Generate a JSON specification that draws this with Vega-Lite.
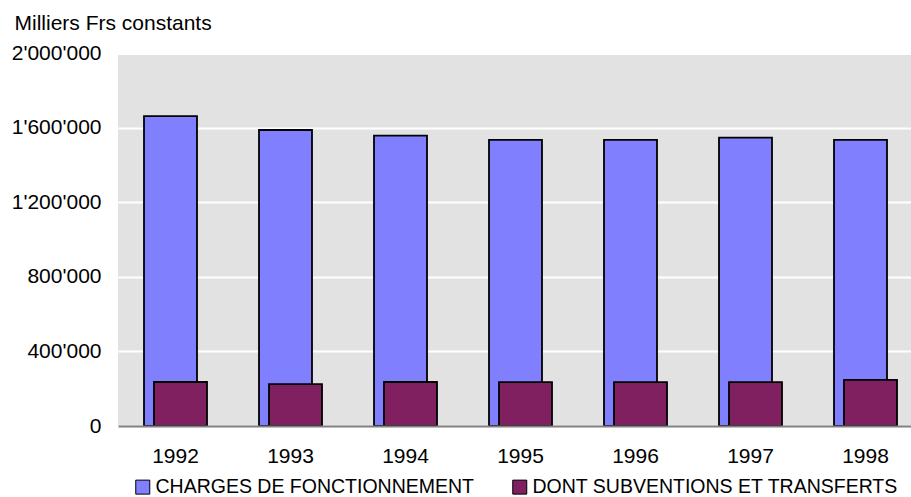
{
  "$schema": "https://vega.github.io/schema/vega-lite/v6.json",
  "width": 793,
  "height": 371,
  "autosize": "none",
  "padding": {"left": 118, "top": 55, "right": 0, "bottom": 71},
  "background": "white",
  "config": {
    "font": "Liberation Sans",
    "view": {"fill": "#E2E2E2", "stroke": null}
  },
  "data": {
    "values": [
      {"annee": "1992", "serie": "CHARGES DE FONCTIONNEMENT", "montant": 1662000},
      {"annee": "1993", "serie": "CHARGES DE FONCTIONNEMENT", "montant": 1587000},
      {"annee": "1994", "serie": "CHARGES DE FONCTIONNEMENT", "montant": 1557000},
      {"annee": "1995", "serie": "CHARGES DE FONCTIONNEMENT", "montant": 1534000},
      {"annee": "1996", "serie": "CHARGES DE FONCTIONNEMENT", "montant": 1534000},
      {"annee": "1997", "serie": "CHARGES DE FONCTIONNEMENT", "montant": 1546000},
      {"annee": "1998", "serie": "CHARGES DE FONCTIONNEMENT", "montant": 1534000},
      {"annee": "1992", "serie": "DONT SUBVENTIONS ET TRANSFERTS", "montant": 236000},
      {"annee": "1993", "serie": "DONT SUBVENTIONS ET TRANSFERTS", "montant": 225000},
      {"annee": "1994", "serie": "DONT SUBVENTIONS ET TRANSFERTS", "montant": 236000},
      {"annee": "1995", "serie": "DONT SUBVENTIONS ET TRANSFERTS", "montant": 235000},
      {"annee": "1996", "serie": "DONT SUBVENTIONS ET TRANSFERTS", "montant": 235000},
      {"annee": "1997", "serie": "DONT SUBVENTIONS ET TRANSFERTS", "montant": 235000},
      {"annee": "1998", "serie": "DONT SUBVENTIONS ET TRANSFERTS", "montant": 247000}
    ]
  },
  "encoding": {
    "x": {
      "field": "annee",
      "type": "ordinal",
      "scale": {"range": [0, 805], "paddingInner": 0, "paddingOuter": 0},
      "axis": {
        "title": null,
        "labelAngle": 0,
        "labelFontSize": 21,
        "labelColor": "black",
        "labelPadding": 19,
        "ticks": false,
        "tickSize": 0,
        "domainColor": "#808080",
        "domainWidth": 2,
        "grid": false,
        "zindex": 1
      }
    },
    "y": {
      "field": "montant",
      "type": "quantitative",
      "scale": {"domain": [0, 2000000], "range": [371, -2], "nice": false},
      "axis": {
        "title": "Milliers Frs constants",
        "titleAngle": 0,
        "titleAlign": "left",
        "titleBaseline": "alphabetic",
        "titleX": -104,
        "titleY": -26,
        "titleFontSize": 21,
        "titleFontWeight": "normal",
        "titleColor": "black",
        "values": [0, 400000, 800000, 1200000, 1600000, 2000000],
        "labelExpr": "replace(format(datum.value, ','), /,/g, \"'\")",
        "labelFontSize": 21,
        "labelColor": "black",
        "labelPadding": 17,
        "domain": false,
        "ticks": false,
        "tickSize": 0,
        "grid": true,
        "gridColor": "white",
        "gridWidth": 2,
        "gridOpacity": 1
      }
    },
    "color": {
      "field": "serie",
      "type": "nominal",
      "scale": {
        "domain": ["CHARGES DE FONCTIONNEMENT", "DONT SUBVENTIONS ET TRANSFERTS"],
        "range": ["#8080FF", "#802060"]
      },
      "legend": {
        "title": null,
        "orient": "none",
        "legendX": 15,
        "legendY": 422,
        "direction": "horizontal",
        "columns": 2,
        "columnPadding": 35,
        "padding": 0,
        "symbolType": "square",
        "symbolSize": 196,
        "symbolStrokeColor": "black",
        "symbolStrokeWidth": 1,
        "symbolOpacity": 1,
        "labelFontSize": 19.5,
        "labelColor": "black",
        "labelOffset": 3,
        "labelLimit": 600
      }
    }
  },
  "layer": [
    {
      "transform": [{"filter": "datum.serie === 'CHARGES DE FONCTIONNEMENT'"}],
      "mark": {"type": "bar", "width": 53, "xOffset": -5, "stroke": "black", "strokeWidth": 1.8, "opacity": 1}
    },
    {
      "transform": [{"filter": "datum.serie === 'DONT SUBVENTIONS ET TRANSFERTS'"}],
      "mark": {"type": "bar", "width": 53, "xOffset": 5, "stroke": "black", "strokeWidth": 1.8, "opacity": 1}
    }
  ]
}
